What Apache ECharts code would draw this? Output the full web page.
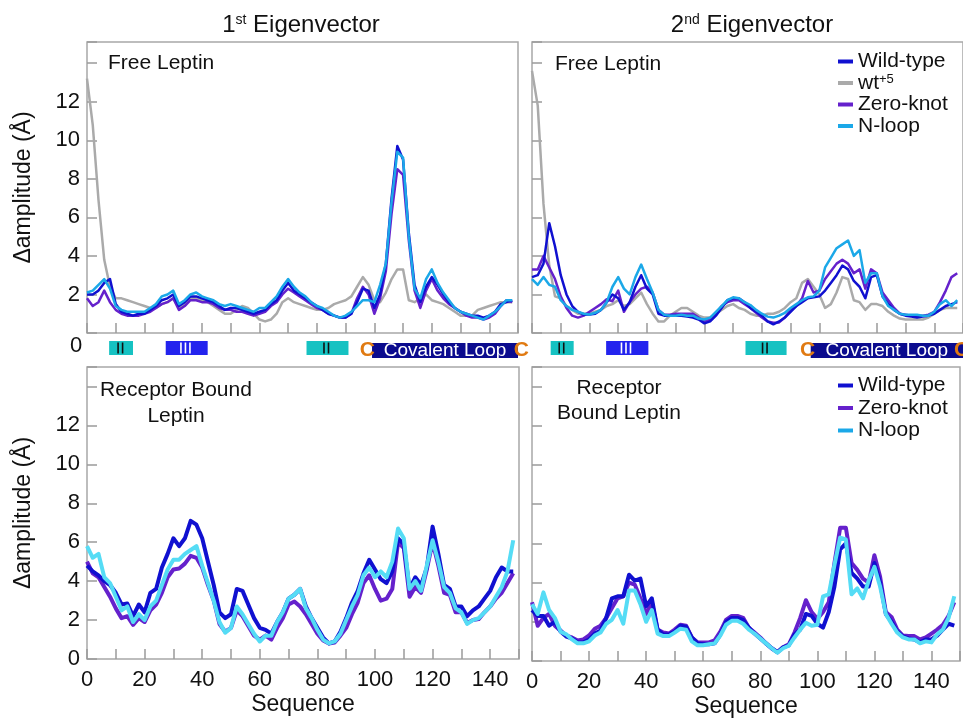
<!DOCTYPE html>
<html>
<head>
<meta charset="utf-8">
<script src="https://cdn.jsdelivr.net/npm/echarts@6/dist/echarts.min.js"></script>
<style>
  html, body { margin: 0; padding: 0; background: #fff; }
  #main { width: 963px; height: 719px; }
</style>
</head>
<body>
<div id="main"></div>
<script>
// sequence positions (residue number)
var seq = [0,2,4,6,8,10,12,14,16,18, 20,22,24,26,28,30,32,34,36,38,
  40,42,44,46,48,50,52,54,56,58, 60,62,64,66,68,70,72,74,76,78,
  80,82,84,86,88,90,92,94,96,98, 100,102,104,106,108,110,112,114,116,118,
  120,122,124,126,128,130,132,134,136,138, 140,142,144,146,148];

// 1st eigenvector, free leptin
var wtFree1 = [2.0,2.0,2.2,2.6,2.8,1.5,1.1,1.0,0.9,1.0, 1.0,1.2,1.4,1.7,1.8,2.0,1.4,1.6,1.9,1.9,
  1.8,1.7,1.6,1.4,1.2,1.3,1.3,1.2,1.1,1.0, 1.1,1.2,1.5,1.7,2.2,2.6,2.2,2.0,1.8,1.6,
  1.4,1.2,1.0,0.9,0.8,0.8,1.0,1.6,2.3,2.2, 1.3,2.0,3.6,7.0,9.7,9.0,5.2,2.5,1.6,2.4,
  2.9,2.5,2.0,1.6,1.3,1.1,1.0,0.9,0.9,0.8, 0.9,1.1,1.5,1.6,1.7];
var wt5Free1 = [13.2,10.8,6.9,3.8,2.4,1.8,1.8,1.7,1.6,1.5, 1.4,1.3,1.3,1.5,1.6,1.8,1.3,1.5,1.8,1.8,
  1.7,1.6,1.4,1.2,1.0,1.0,1.2,1.4,1.3,1.0, 0.7,0.6,0.7,1.0,1.6,1.8,1.6,1.5,1.4,1.3,
  1.2,1.2,1.3,1.5,1.6,1.7,1.9,2.4,2.9,2.5, 1.7,1.6,2.1,2.8,3.3,3.3,1.7,1.6,1.8,2.0,
  1.7,1.6,1.5,1.3,1.1,0.9,0.9,0.9,1.2,1.3, 1.4,1.5,1.6,1.6,1.6];
var zkFree1 = [1.8,1.4,1.6,2.2,1.6,1.2,1.0,0.9,0.9,0.9, 1.0,1.1,1.3,1.5,1.6,1.8,1.2,1.4,1.7,1.7,
  1.6,1.6,1.5,1.3,1.2,1.2,1.1,1.1,1.0,0.9, 1.0,1.1,1.4,1.6,2.0,2.3,2.1,1.9,1.7,1.5,
  1.3,1.2,1.0,0.9,0.8,0.8,1.0,1.8,2.4,2.0, 1.0,1.8,3.2,6.2,8.5,8.2,4.8,2.2,1.3,2.2,
  2.8,2.2,1.8,1.5,1.3,1.1,0.9,0.8,0.8,0.7, 0.8,1.0,1.4,1.7,1.6];
var nlFree1 = [2.1,2.2,2.5,2.8,2.3,1.4,1.2,1.1,1.1,1.1, 1.1,1.3,1.5,1.9,2.0,2.2,1.5,1.7,2.0,2.1,
  1.9,1.8,1.7,1.5,1.4,1.5,1.4,1.3,1.2,1.1, 1.3,1.3,1.6,1.9,2.4,2.8,2.4,2.1,1.9,1.6,
  1.4,1.3,1.1,0.9,0.8,0.9,1.1,1.4,1.7,1.7, 1.6,2.5,3.6,6.8,9.4,9.1,5.0,2.3,1.8,2.8,
  3.3,2.6,2.1,1.7,1.3,1.1,1.0,0.9,0.8,0.7, 0.9,1.1,1.4,1.7,1.7];

// 2nd eigenvector, free leptin
var wtFree2 = [2.9,3.0,3.6,5.7,4.5,3.0,2.0,1.4,1.1,0.96, 0.96,1.0,1.2,1.6,2.0,1.8,1.2,1.6,2.4,3.0,
  2.3,2.0,1.0,0.9,0.9,0.9,0.9,0.85,0.8,0.7, 0.5,0.6,0.9,1.3,1.7,1.8,1.8,1.6,1.3,1.1,
  0.9,0.6,0.45,0.6,0.8,1.1,1.4,1.6,1.8,1.85, 1.9,2.2,2.6,3.0,3.5,3.3,2.7,2.4,1.8,2.9,
  3.0,1.9,1.5,1.2,1.0,0.9,0.85,0.8,0.85,0.9, 1.0,1.2,1.4,1.5,1.6];
var wt5Free2 = [13.6,11.8,6.7,3.5,1.9,1.8,1.4,1.2,1.0,1.0, 1.0,1.1,1.2,1.4,1.5,1.7,1.4,1.5,1.8,2.1,
  1.5,1.0,0.6,0.6,0.9,1.1,1.3,1.3,1.1,0.9, 0.8,0.8,1.0,1.2,1.4,1.5,1.3,1.2,1.0,0.9,
  0.9,1.0,1.0,1.1,1.3,1.6,1.8,2.6,2.8,2.4, 2.0,1.3,1.5,2.1,2.9,2.8,1.7,1.6,1.2,1.5,
  1.5,1.4,1.1,0.9,0.75,0.7,0.7,0.7,0.7,0.8, 1.0,1.2,1.3,1.3,1.3];
var zkFree2 = [3.3,3.3,4.0,3.4,2.8,1.9,1.3,0.9,0.8,0.9, 1.1,1.3,1.5,1.75,1.65,2.2,1.1,1.6,2.0,2.3,
  2.4,2.1,1.2,0.95,0.95,1.0,1.0,1.0,1.0,0.8, 0.6,0.7,1.0,1.4,1.6,1.7,1.7,1.5,1.3,1.05,
  0.8,0.6,0.53,0.55,0.8,1.2,1.4,1.8,2.7,2.1, 2.2,2.8,3.2,3.6,3.8,3.6,3.1,3.3,2.3,3.3,
  3.1,2.1,1.7,1.3,1.0,0.95,0.9,0.9,0.9,0.95, 1.1,1.6,2.2,2.9,3.1];
var nlFree2 = [2.8,2.5,2.9,2.5,2.4,1.7,1.4,1.2,1.1,1.0, 0.96,1.05,1.2,1.6,2.4,2.9,2.3,2.0,2.9,3.55,
  2.8,2.1,1.2,0.95,0.9,0.9,0.95,0.9,0.9,0.75, 0.7,0.8,1.1,1.4,1.7,1.85,1.8,1.6,1.45,1.2,
  1.0,0.85,0.8,0.9,1.05,1.3,1.5,1.7,1.85,1.9, 2.2,3.4,3.9,4.4,4.6,4.8,4.0,4.3,2.6,3.1,
  3.1,1.9,1.4,1.2,1.0,0.95,0.95,0.95,0.9,0.9, 1.1,1.5,1.7,1.4,1.7];

// 1st eigenvector, receptor bound leptin
var wtBound1 = [4.8,4.5,4.3,4.0,3.8,3.4,2.8,2.85,2.2,2.8, 2.4,3.4,3.6,4.7,5.4,6.2,5.8,6.2,7.1,6.9,
  6.2,5.0,3.8,2.4,2.1,2.3,3.6,3.5,2.8,2.1, 1.6,1.5,1.3,1.9,2.4,3.1,3.3,3.6,2.7,2.1,
  1.6,1.1,0.8,0.9,1.4,2.1,2.9,3.5,4.4,5.1, 4.6,4.1,3.9,4.5,6.2,5.9,3.6,4.2,3.8,4.7,
  6.8,5.4,3.8,3.6,2.7,2.7,2.2,2.5,2.7,3.1, 3.5,4.2,4.7,4.5,4.5];
var zkBound1 = [5.0,4.4,4.2,3.7,3.2,2.6,2.1,2.2,1.75,2.1, 1.9,2.5,2.8,3.4,4.2,4.6,4.65,4.9,5.3,5.2,
  4.7,3.8,3.0,1.8,1.4,1.6,2.5,2.2,1.7,1.2, 1.0,1.2,1.0,1.6,2.1,2.8,2.95,2.7,2.3,1.8,
  1.3,0.95,0.8,0.85,1.2,1.6,2.3,2.9,3.9,4.3, 3.6,3.0,3.1,3.6,6.0,5.7,3.2,3.7,3.4,4.6,
  6.0,4.8,3.4,3.3,2.4,2.4,1.85,2.0,2.05,2.4, 2.7,3.1,3.4,3.9,4.4];
var nlBound1 = [5.8,5.2,5.4,4.2,3.9,3.2,2.5,2.7,1.9,2.3, 2.0,2.7,3.0,3.8,4.6,5.1,5.1,5.4,5.6,5.8,
  4.8,3.9,3.0,1.9,1.35,1.6,2.7,2.3,1.8,1.3, 0.9,1.2,1.2,1.9,2.4,3.1,3.3,3.6,2.6,2.1,
  1.5,1.0,0.8,0.9,1.3,2.0,2.7,3.3,4.3,4.7, 4.2,4.5,4.2,5.0,6.7,6.2,3.6,4.0,3.5,4.8,
  6.1,5.0,3.7,3.4,2.6,2.4,1.8,2.0,2.1,2.4, 2.7,3.2,3.7,4.5,6.1];

// 2nd eigenvector, receptor bound leptin
var wtBound2 = [2.6,2.3,2.3,1.8,2.0,1.5,1.25,1.15,0.95,0.95, 1.1,1.4,1.55,2.2,3.2,3.3,3.3,4.4,4.1,4.2,
  2.8,3.2,1.6,1.35,1.35,1.5,1.8,1.75,1.2,0.9, 0.85,0.85,0.9,1.35,2.0,2.2,2.2,2.1,1.7,1.4,
  1.15,0.9,0.65,0.45,0.7,0.8,1.35,1.6,2.4,2.3, 1.9,1.7,2.5,3.8,5.7,6.0,4.5,4.2,3.8,3.8,
  5.0,4.0,2.4,2.0,1.5,1.25,1.15,1.1,0.95,1.1, 1.1,1.3,1.6,1.9,1.8];
var zkBound2 = [3.0,1.8,2.2,2.4,1.8,1.55,1.3,1.2,1.05,1.1, 1.3,1.65,1.8,2.2,2.7,3.2,3.3,4.0,3.9,3.2,
  2.4,3.0,1.6,1.45,1.4,1.6,1.85,1.8,1.2,0.95, 0.95,0.95,1.05,1.5,2.1,2.3,2.3,2.2,1.7,1.45,
  1.2,0.9,0.65,0.45,0.7,0.85,1.45,2.2,3.1,2.5, 2.15,2.5,3.0,5.0,6.8,6.8,5.0,4.65,4.2,4.0,
  5.4,4.3,2.5,2.25,1.6,1.3,1.27,1.27,1.1,1.2, 1.4,1.6,1.85,2.3,3.0];
var nlBound2 = [2.9,2.4,3.5,2.6,2.2,1.5,1.36,1.1,0.9,0.9, 1.0,1.3,1.45,1.9,2.1,2.6,1.9,3.6,3.6,2.9,
  2.0,2.6,1.4,1.27,1.27,1.45,1.65,1.6,1.0,0.8, 0.8,0.85,0.9,1.3,1.85,2.05,2.05,1.9,1.6,1.4,
  1.15,0.9,0.65,0.42,0.65,0.78,1.2,1.6,1.95,1.8, 1.85,3.3,3.4,4.9,6.3,6.2,3.4,3.7,3.2,4.1,
  4.8,3.8,2.4,1.9,1.45,1.2,1.1,1.1,0.9,1.0, 0.95,1.36,1.6,2.2,3.3];

// secondary structure strip: [from, to, marks]
var blocks1 = [[7.7, 16, 'II'], [27.4, 42, 'III'], [76.4, 91, 'II']];
var loop1 = [99.2, 150];
var cys1 = [97.6, 151.2];
var blocks2 = [[6.5, 14.5, 'II'], [25.8, 40.5, 'III'], [74.3, 88.6, 'II']];
var loop2 = [97, 150];
var cys2 = [95.9, 149.5];

var FONT = '"Liberation Sans", Arial, Helvetica, sans-serif';
var TXT = '#111';
var C_WT = '#1010d0', C_WT5 = '#aaaaaa', C_ZK = '#6521cc', C_NL = '#1ba8e8', C_NL2 = '#55dcf5';

var myChart = echarts.init(document.getElementById('main'));

function line(name, vals, idx, color, width) {
  return {
    name: name, type: 'line', xAxisIndex: idx, yAxisIndex: idx,
    data: seq.map(function (s, i) { return [s, vals[i]]; }),
    showSymbol: false, symbol: 'none', silent: true,
    lineStyle: { color: color, width: width, join: 'round' },
    itemStyle: { color: color }
  };
}

function strip(blocks, loop, cys, idx) {
  var items = blocks.map(function (b) { return [b[0], b[1]]; });
  items.push([loop[0], loop[1]]);
  return {
    type: 'custom', xAxisIndex: idx, yAxisIndex: idx, clip: false, silent: true,
    data: items,
    renderItem: function (params, api) {
      var i = params.dataIndex;
      var a = api.coord([api.value(0), 1]);
      var b = api.coord([api.value(1), 0]);
      var top = a[1];
      if (i < blocks.length) {
        var marks = blocks[i][2];
        var beta = marks.length === 3;
        var kids = [{ type: 'rect', shape: { x: a[0], y: top + 3, width: b[0] - a[0], height: 14 },
          style: { fill: beta ? '#2323ee' : '#16c2c2' } }];
        var cx = a[0] + (b[0] - a[0]) * 0.47;
        for (var k = 0; k < marks.length; k++) {
          var x = cx + (k - (marks.length - 1) / 2) * 4.5;
          kids.push({ type: 'rect', shape: { x: x - 0.8, y: top + 4.5, width: 1.6, height: 11 },
            style: { fill: beta ? '#ffffff' : '#111111' } });
        }
        return { type: 'group', children: kids };
      }
      var c0 = api.coord([cys[0], 1])[0];
      var c1 = api.coord([cys[1], 1])[0];
      var cStyle = function (x) {
        return { type: 'text', style: { text: 'C', x: x, y: top + 12, fontSize: 21, fontWeight: 'bold',
          fontFamily: FONT, fill: '#e07a12', align: 'center', verticalAlign: 'middle' } };
      };
      return { type: 'group', children: [
        { type: 'rect', shape: { x: a[0], y: top + 5, width: b[0] - a[0], height: 15 }, style: { fill: '#0b0b8e' } },
        { type: 'text', style: { text: 'Covalent Loop', x: (a[0] + b[0]) / 2, y: top + 12.5, fontSize: 19,
          fontFamily: FONT, fill: '#ffffff', align: 'center', verticalAlign: 'middle' } },
        cStyle(c0), cStyle(c1)
      ] };
    }
  };
}

var tick = { show: true, inside: true, length: 10, lineStyle: { color: '#9a9a9a', width: 1.5 } };
var border = { show: true, borderColor: '#a8a8a8', borderWidth: 1.5 };

var xAxes = [0, 1, 2, 3].map(function (i) {
  var bottom = i >= 2;
  return {
    type: 'value', gridIndex: i, min: 0, max: 150, interval: 10,
    axisLine: { show: false }, axisTick: tick, splitLine: { show: false },
    axisLabel: { show: bottom, margin: 10, fontSize: 22, color: TXT, fontFamily: FONT,
      formatter: function (v) { return (v % 20 === 0 && v < 150) ? String(v) : ''; } },
    name: bottom ? 'Sequence' : '', nameLocation: 'middle', nameGap: 34,
    nameTextStyle: { fontSize: 23, color: TXT, fontFamily: FONT }
  };
});
xAxes.push({ type: 'value', gridIndex: 4, min: 0, max: 150, show: false });
xAxes.push({ type: 'value', gridIndex: 5, min: 0, max: 150, show: false });

var yAxes = [0, 1, 2, 3].map(function (i) {
  var left = (i === 0 || i === 2);
  return {
    type: 'value', gridIndex: i, min: 0, max: i < 2 ? 15.1 : 15, interval: 2,
    axisLine: { show: false }, axisTick: tick, splitLine: { show: false },
    axisLabel: { show: left, margin: 7, fontSize: 22, color: TXT, fontFamily: FONT,
      formatter: function (v) {
        if (v % 2 !== 0 || v > 12) return '';
        if (i === 0 && v === 0) return '';
        return String(v);
      } },
    name: left ? 'Δamplitude (Å)' : '', nameLocation: 'middle', nameGap: 52,
    nameTextStyle: { fontSize: 23, color: TXT, fontFamily: FONT }
  };
});
yAxes.push({ type: 'value', gridIndex: 4, min: 0, max: 1, show: false });
yAxes.push({ type: 'value', gridIndex: 5, min: 0, max: 1, show: false });

var legendText = {
  fontSize: 21, color: TXT, fontFamily: FONT, lineHeight: 21,
  rich: { sup: { fontSize: 13, verticalAlign: 'top', lineHeight: 21, fontFamily: FONT, color: TXT } }
};

var option = {
  animation: false,
  backgroundColor: '#ffffff',
  grid: [
    Object.assign({ left: 87, top: 42, width: 431, height: 291 }, border),
    Object.assign({ left: 532, top: 42, width: 438, height: 291 }, border),
    Object.assign({ left: 87, top: 367, width: 432, height: 292 }, border),
    Object.assign({ left: 532, top: 367, width: 438, height: 294 }, border),
    { left: 87, top: 338, width: 431, height: 22, show: false },
    { left: 532, top: 338, width: 438, height: 22, show: false }
  ],
  xAxis: xAxes,
  yAxis: yAxes,
  legend: [{
    data: ['Wild-type', 'wt+5', 'Zero-knot', 'N-loop'],
    orient: 'vertical', left: 838, top: 51, padding: 0, itemGap: 0.5,
    itemWidth: 15, itemHeight: 4, icon: 'rect', selectedMode: false,
    textStyle: legendText,
    formatter: function (n) { return n === 'wt+5' ? 'wt{sup|+5}' : n; }
  }, {
    data: ['Wild-type', 'Zero-knot', 'N-loop'],
    orient: 'vertical', left: 838, top: 375, padding: 0, itemGap: 1.5,
    itemWidth: 15, itemHeight: 4, icon: 'rect', selectedMode: false,
    textStyle: legendText
  }],
  graphic: [
    { type: 'text', x: 301, y: 25, style: { text: '1{s|st} Eigenvector', fontSize: 24, fontFamily: FONT, fill: TXT,
      align: 'center', verticalAlign: 'middle', rich: { s: { fontSize: 14, verticalAlign: 'top', fontFamily: FONT, fill: TXT } } } },
    { type: 'text', x: 752, y: 25, style: { text: '2{s|nd} Eigenvector', fontSize: 24, fontFamily: FONT, fill: TXT,
      align: 'center', verticalAlign: 'middle', rich: { s: { fontSize: 14, verticalAlign: 'top', fontFamily: FONT, fill: TXT } } } },
    { type: 'text', x: 108, y: 63, style: { text: 'Free Leptin', fontSize: 21, fontFamily: FONT, fill: TXT, verticalAlign: 'middle' } },
    { type: 'text', x: 555, y: 64, style: { text: 'Free Leptin', fontSize: 21, fontFamily: FONT, fill: TXT, verticalAlign: 'middle' } },
    { type: 'text', x: 176, y: 403, style: { text: 'Receptor Bound\nLeptin', fontSize: 21, lineHeight: 26, fontFamily: FONT,
      fill: TXT, align: 'center', verticalAlign: 'middle' } },
    { type: 'text', x: 619, y: 401, style: { text: 'Receptor\nBound Leptin', fontSize: 21, lineHeight: 25, fontFamily: FONT,
      fill: TXT, align: 'center', verticalAlign: 'middle' } },
    { type: 'text', x: 76, y: 346, style: { text: '0', fontSize: 22, fontFamily: FONT, fill: TXT, align: 'center', verticalAlign: 'middle' } }
  ],
  series: [
    line('wt+5', wt5Free1, 0, C_WT5, 2.5),
    line('Zero-knot', zkFree1, 0, C_ZK, 2.5),
    line('Wild-type', wtFree1, 0, C_WT, 2.5),
    line('N-loop', nlFree1, 0, C_NL, 2.5),
    line('wt+5', wt5Free2, 1, C_WT5, 2.5),
    line('Zero-knot', zkFree2, 1, C_ZK, 2.5),
    line('Wild-type', wtFree2, 1, C_WT, 2.5),
    line('N-loop', nlFree2, 1, C_NL, 2.5),
    line('Zero-knot', zkBound1, 2, C_ZK, 4),
    line('Wild-type', wtBound1, 2, C_WT, 4),
    line('N-loop', nlBound1, 2, C_NL2, 4),
    line('Zero-knot', zkBound2, 3, C_ZK, 4),
    line('Wild-type', wtBound2, 3, C_WT, 4),
    line('N-loop', nlBound2, 3, C_NL2, 4),
    strip(blocks1, loop1, cys1, 4),
    strip(blocks2, loop2, cys2, 5)
  ]
};

myChart.setOption(option);
</script>
</body>
</html>
